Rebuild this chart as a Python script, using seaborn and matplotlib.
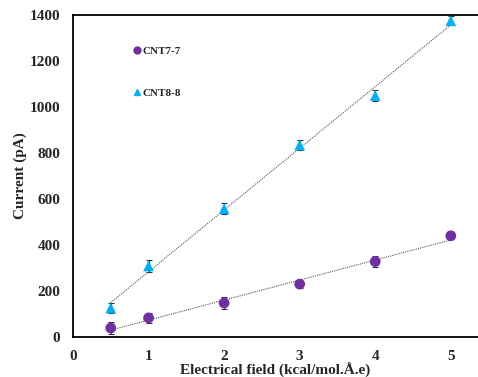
import numpy as np
import pandas as pd
import matplotlib
matplotlib.use("Agg")
import matplotlib.pyplot as plt
import seaborn as sns
from matplotlib.lines import Line2D

# Data
field = [0.5, 1, 2, 3, 4, 5]
cnt77 = [39, 83, 148, 230, 328, 440]
cnt77_err = [25, 20, 25, 15, 25, 15]
cnt88 = [126, 309, 558, 835, 1050, 1375]
cnt88_err = [20, 25, 25, 20, 25, 20]
series_names = ["CNT7-7", "CNT8-8"]
colors = {"CNT7-7": "#7030A0", "CNT8-8": "#00B0F0"}
markers = {"CNT7-7": "o", "CNT8-8": "^"}
xticks = [0, 1, 2, 3, 4, 5]
yticks = [0, 200, 400, 600, 800, 1000, 1200, 1400]

df = pd.DataFrame({
    "field": field * 2,
    "current": cnt77 + cnt88,
    "err": cnt77_err + cnt88_err,
    "series": [series_names[0]] * len(field) + [series_names[1]] * len(field),
})

sns.set_style("white")
plt.rcParams["font.family"] = ["Liberation Serif", "DejaVu Serif"]
plt.rcParams["font.weight"] = "bold"

fig = plt.figure(figsize=(4.78, 3.77), dpi=100)
ax = fig.add_axes([0.1527, 0.1061, 1.0 - 0.1527, 0.9602 - 0.1061])

for name in series_names:
    sub = df[df["series"] == name]
    sns.regplot(data=sub, x="field", y="current", scatter=False, ci=None, ax=ax,
                line_kws=dict(color="#555555", lw=0.8, ls=(0, (1, 1))), truncate=True)
    ax.errorbar(sub["field"], sub["current"], yerr=sub["err"], fmt="none",
                ecolor="#333333", elinewidth=0.8, capsize=2.5, capthick=0.8, zorder=2)

sns.scatterplot(data=df, x="field", y="current", hue="series", style="series",
                palette=colors, markers=markers, s=60, edgecolor="none", ax=ax,
                zorder=3, legend=False)

handles = [Line2D([], [], marker=markers[n], color=colors[n], ls="none", markersize=5)
           for n in series_names]
ax.legend(handles, series_names, loc="upper left", bbox_to_anchor=(0.12, 0.935),
          frameon=False, handletextpad=0.0, labelspacing=2.9, handlelength=1.0,
          prop=dict(family="Liberation Serif", weight="bold", size=8))

ax.set_xlim(0, 5.36)
ax.set_ylim(0, 1400)
ax.set_xticks(xticks)
ax.set_yticks(yticks)
ax.set_xticklabels([str(t) for t in xticks], fontsize=11, fontweight="bold")
ax.set_yticklabels([str(t) for t in yticks], fontsize=11, fontweight="bold")
ax.tick_params(axis="both", direction="in", length=4, width=1, color="black")
ax.tick_params(axis="x", pad=9)
ax.tick_params(axis="y", pad=9)
ax.set_xlabel("Electrical field (kcal/mol.Å.e)", fontsize=11, fontweight="bold", labelpad=0)
ax.set_ylabel("Current (pA)", fontsize=11, fontweight="bold", labelpad=2)

for s in ["left", "bottom", "top"]:
    ax.spines[s].set_color("black")
    ax.spines[s].set_linewidth(1.3)
ax.spines["right"].set_visible(False)

fig.savefig("out.png", dpi=100)
